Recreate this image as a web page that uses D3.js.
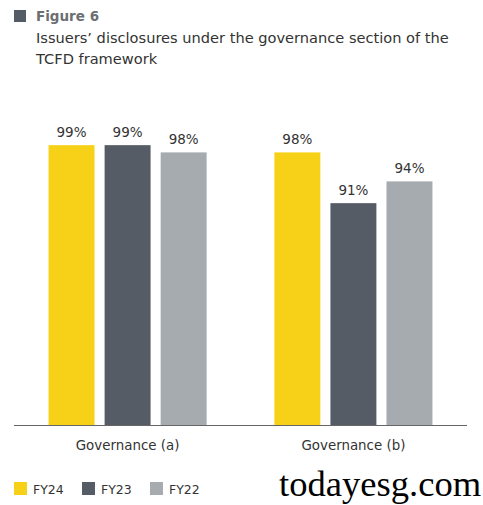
<!DOCTYPE html>
<html>
<head>
<meta charset="utf-8">
<script src="https://cdn.jsdelivr.net/npm/d3@7"></script>
<style>
  body { margin: 0; background: #fff; }
</style>
</head>
<body>
<div id="chart"></div>
<script>
// data
let categories = ['Governance (a)', 'Governance (b)'];
let seriesNames = ['FY24', 'FY23', 'FY22'];
let fy24 = [99, 98];
let fy23 = [99, 91];
let fy22 = [98, 94];
let seriesColors = ['#f7d117', '#565c66', '#a6abb0'];

let width = 483,
    height = 505,
    baseY = 425,
    sans = '"DejaVu Sans", Verdana, sans-serif';

let svg = d3.select('#chart').append('svg')
    .attr('width', width)
    .attr('height', height)
    .style('font-family', sans);

// title
svg.append('rect')
    .attr('x', 14).attr('y', 10)
    .attr('width', 12).attr('height', 12)
    .attr('fill', '#565c66');
svg.append('text')
    .attr('x', 36).attr('y', 21)
    .attr('font-size', 13.5)
    .attr('font-weight', 'bold')
    .attr('fill', '#6b6e73')
    .text('Figure 6');
svg.append('text')
    .attr('x', 36).attr('y', 43)
    .attr('font-size', 14.6)
    .attr('fill', '#333')
    .text('Issuers\u2019 disclosures under the governance section of the');
svg.append('text')
    .attr('x', 36).attr('y', 64)
    .attr('font-size', 14.6)
    .attr('fill', '#333')
    .text('TCFD framework');

let rows = [];
categories.forEach((c, i) => {
    [fy24, fy23, fy22].forEach((s, j) => {
        rows.push({cat: c, series: seriesNames[j], value: s[i]});
    });
});

let x0 = d3.scaleBand()
    .domain(categories)
    .range([14, 467])
    .paddingInner(0.3)
    .paddingOuter(0.153);

let x1 = d3.scaleBand()
    .domain(seriesNames)
    .range([0, x0.bandwidth()])
    .paddingInner(0.18);

let yScale = d3.scaleLinear()
    .domain([60.4, 100])
    .range([baseY, baseY - 39.6 * 7.25]);

let color = d3.scaleOrdinal()
    .domain(seriesNames)
    .range(seriesColors);

let bar_g = svg.append('g').attr('class', 'bars');

bar_g.selectAll('.bar')
    .data(rows)
    .join('rect')
    .attr('class', 'bar')
    .attr('x', d => x0(d.cat) + x1(d.series))
    .attr('y', d => yScale(d.value))
    .attr('width', x1.bandwidth())
    .attr('height', d => baseY - yScale(d.value))
    .attr('fill', d => color(d.series));

bar_g.selectAll('.val')
    .data(rows)
    .join('text')
    .attr('class', 'val')
    .attr('x', d => x0(d.cat) + x1(d.series) + x1.bandwidth() / 2)
    .attr('y', d => yScale(d.value) - 8)
    .attr('text-anchor', 'middle')
    .attr('font-size', 13.5)
    .attr('fill', '#333')
    .text(d => d.value + '%');

// axis
let xAxis = d3.axisBottom(x0).tickSize(0).tickPadding(15);
let axis_g = svg.append('g')
    .attr('transform', `translate(0, ${baseY})`)
    .call(xAxis);
axis_g.select('.domain').attr('stroke', '#666').attr('d', 'M14,0.5H467');
axis_g.selectAll('text')
    .attr('font-size', 13.4)
    .attr('font-family', sans)
    .attr('fill', '#333');

// legend
let legendX = [14, 82, 150];
let legend = svg.append('g').selectAll('.legend')
    .data(seriesNames)
    .join('g')
    .attr('class', 'legend')
    .attr('transform', (d, i) => `translate(${legendX[i]}, 482)`);
legend.append('rect')
    .attr('width', 13).attr('height', 13)
    .attr('fill', d => color(d));
legend.append('text')
    .attr('x', 19).attr('y', 11.5)
    .attr('font-size', 12.5)
    .attr('fill', '#333')
    .text(d => d);

// watermark
svg.append('text')
    .attr('x', 279).attr('y', 496)
    .style('font-family', '"Liberation Serif", "DejaVu Serif", serif')
    .attr('font-size', 36.6)
    .attr('fill', '#000')
    .text('todayesg.com');
</script>
</body>
</html>
